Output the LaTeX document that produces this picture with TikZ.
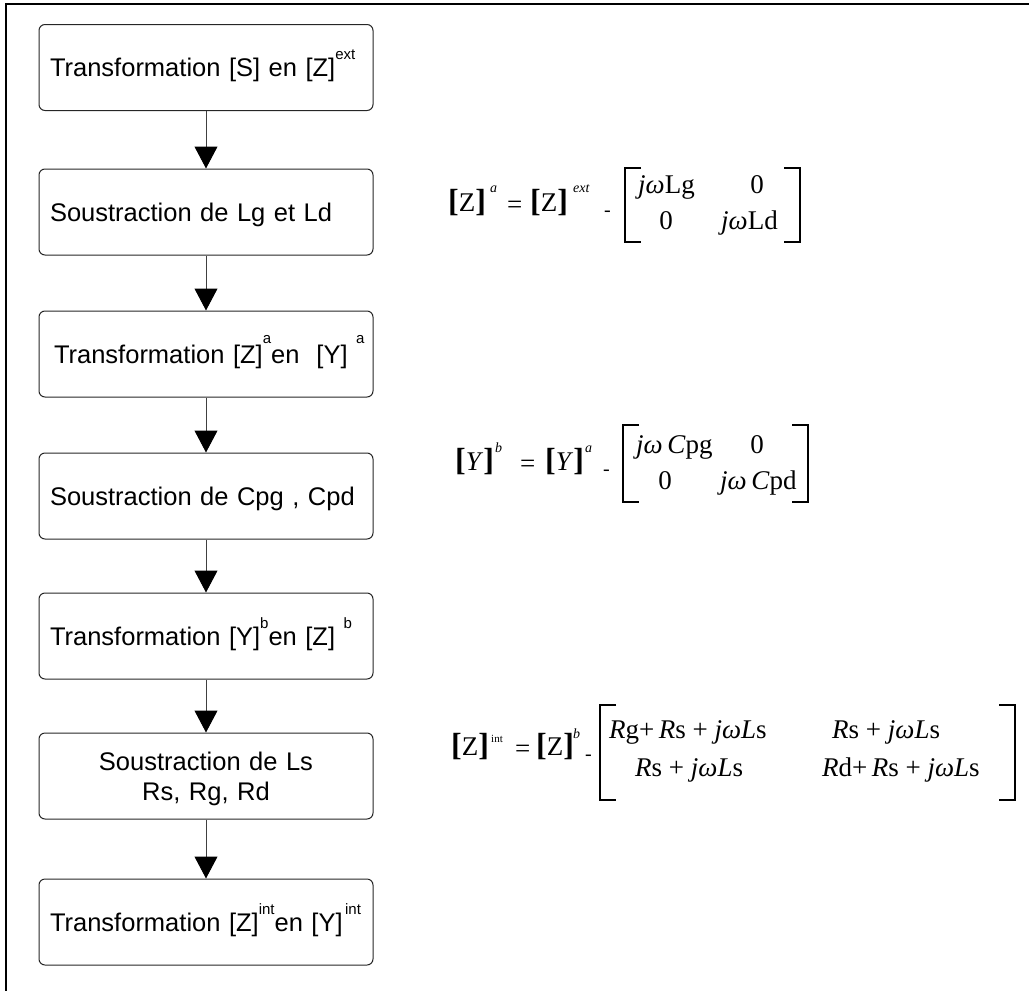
\documentclass[tikz,border=0pt]{standalone}
\usepackage{fontspec}
\setmainfont{Liberation Sans}
\newfontfamily\eqf{Liberation Serif}
\usetikzlibrary{arrows.meta}
\newcommand\bsup[2]{\smash{\raisebox{#1}{\fontsize{15}{15}\selectfont #2}}}
\newcommand\brk[1]{{\fontsize{32}{32}\selectfont\bfseries[}#1{\fontsize{32}{32}\selectfont\bfseries]}}
\begin{document}
\begin{tikzpicture}[x=1pt,y=-1pt,
  stepbox/.style={draw=black!85, line width=1pt, rounded corners=6pt,
    minimum width=334pt, minimum height=86pt, inner sep=0pt,
    font=\fontsize{25.5}{30}\selectfont, text width=312pt, align=left,
    text height=20pt, text depth=2pt},
  flow/.style={draw=black!75, line width=1pt, -{Triangle[width=23pt,length=22pt,color=black]}},
  eq/.style={font=\eqf\fontsize{27}{30}\selectfont, inner sep=0pt, anchor=base west},
  eqs/.style={font=\eqf\fontsize{27}{30}\selectfont, inner sep=0pt, anchor=base west},
  sup/.style={font=\eqf\itshape\fontsize{14}{14}\selectfont, inner sep=0pt, anchor=base west},
  mbr/.style={line width=2.6pt},
  frame/.style={line width=2.5pt},
]
\useasboundingbox (0,0) rectangle (1029,991);
\draw[frame] (6,991) -- (6,4) -- (1029,4);

% flow boxes
\node[stepbox] (b1) at (206,67.5) {\mbox{Transformation [S] en [Z]\bsup{17pt}{ext}}};
\node[stepbox] (b2) at (206,212) {\mbox{Soustraction de Lg et Ld}};
\node[stepbox] (b3) at (206,354) {\mbox{\hspace*{4pt}Transformation [Z]\bsup{20pt}{a}en\ \ [Y]\ \bsup{20pt}{a}}};
\node[stepbox] (b4) at (206,496) {\mbox{Soustraction de Cpg , Cpd}};
\node[stepbox] (b5) at (206,636) {\mbox{Transformation [Y]\bsup{17pt}{b}en [Z] \bsup{17pt}{b}}};
\node[stepbox, align=center, text height=0pt, text depth=12pt] (b6) at (206,776) {Soustraction de Ls\\Rs, Rg, Rd};
\node[stepbox] (b7) at (206,922) {\mbox{Transformation [Z]\bsup{17pt}{int}en [Y]\bsup{17pt}{\,int}}};

\draw[flow] (b1) -- (b2);
\draw[flow] (b2) -- (b3);
\draw[flow] (b3) -- (b4);
\draw[flow] (b4) -- (b5);
\draw[flow] (b5) -- (b6);
\draw[flow] (b6) -- (b7);

% equation 1
\node[eq] (e1a) at (448,211) {\brk{Z}};
\node[sup] (e1b) at (490,192) {a};
\node[eq] (e1c) at (507,213) {=};
\node[eq] (e1d) at (530,211) {\brk{Z}};
\node[sup] (e1e) at (573,192) {ext};
\node[eq, font=\eqf\fontsize{20}{20}\selectfont] (e1f) at (604,216) {-};
\draw[mbr] (641,168) -- (625,168) -- (625,242) -- (641,242);
\draw[mbr] (784,168) -- (800,168) -- (800,242) -- (784,242);
\node[eq] (m111) at (638,193) {\textit{jω}Lg};
\node[eq, anchor=base] (m112) at (757,193) {0};
\node[eq, anchor=base] (m121) at (666,229) {0};
\node[eq] (m122) at (721,229) {\textit{jω}Ld};

% equation 2
\node[eq] (e2a) at (455,470) {\brk{\textit{Y}}};
\node[sup] (e2b) at (495,452) {b};
\node[eq] (e2c) at (520,472) {=};
\node[eq] (e2d) at (545,470) {\brk{\textit{Y}}};
\node[sup] (e2e) at (585,452) {a};
\node[eq, font=\eqf\fontsize{20}{20}\selectfont] (e2f) at (603,475) {-};
\draw[mbr] (639,425) -- (623,425) -- (623,502) -- (639,502);
\draw[mbr] (792,425) -- (808,425) -- (808,502) -- (792,502);
\node[eq] (m211) at (636,453) {\textit{jω\,C}pg};
\node[eq, anchor=base] (m212) at (757,453) {0};
\node[eq, anchor=base] (m221) at (665,489) {0};
\node[eq] (m222) at (720,489) {\textit{jω\,C}pd};

% equation 3
\node[eq] (e3a) at (451,755) {\brk{Z}};
\node[sup, font=\eqf\fontsize{11}{11}\selectfont] (e3b) at (491,742) {int};
\node[eq] (e3c) at (515,757) {=};
\node[eq] (e3d) at (536,755) {\brk{Z}};
\node[sup] (e3e) at (573,738) {b};
\node[eq, font=\eqf\fontsize{20}{20}\selectfont] (e3f) at (585,760) {-};
\draw[mbr] (616,705) -- (600,705) -- (600,800) -- (616,800);
\draw[mbr] (999,705) -- (1015,705) -- (1015,800) -- (999,800);
\node[eqs] (m311) at (609,738) {\textit{R}g+\,\textit{R}s + \textit{jωL}s};
\node[eqs] (m312) at (832,738) {\textit{R}s + \textit{jωL}s};
\node[eqs] (m321) at (635,776) {\textit{R}s + \textit{jωL}s};
\node[eqs] (m322) at (822,776) {\textit{R}d+\,\textit{R}s + \textit{jωL}s};
\end{tikzpicture}
\end{document}
